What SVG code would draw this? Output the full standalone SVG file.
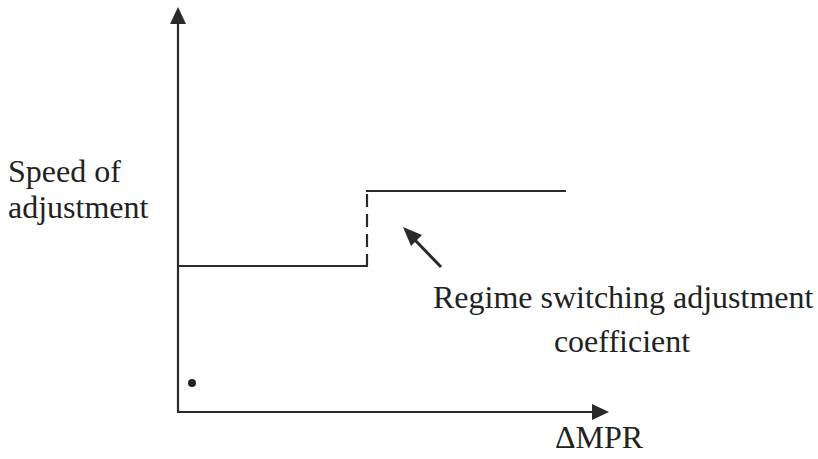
<svg xmlns="http://www.w3.org/2000/svg" width="818" height="459" viewBox="0 0 818 459">
<style>
text{font-family:"Liberation Serif","Times New Roman",serif;font-size:32px;fill:#222}
.ln{stroke:#2a2a2a;stroke-width:2.2;fill:none}
.dash{stroke:#2a2a2a;stroke-width:2.2;fill:none;stroke-dasharray:13,7}
</style>
<rect width="818" height="459" fill="#ffffff"/>
<g id="axes">
<line class="ln" x1="178" y1="412" x2="178" y2="22"/>
<polygon points="178,7 170,24 186,24" fill="#2a2a2a"/>
<line class="ln" x1="177" y1="412" x2="594" y2="412"/>
<polygon points="609,412 592,404 592,420" fill="#2a2a2a"/>
</g>
<g id="curve">
<line class="ln" x1="177" y1="266" x2="368" y2="266"/>
<line class="dash" x1="367" y1="194" x2="367" y2="265"/>
<line class="ln" x1="366" y1="191" x2="566" y2="191"/>
</g>
<g id="connectors">
<line stroke="#2a2a2a" stroke-width="3" x1="441" y1="267" x2="414" y2="239"/>
<polygon points="403,227 422,235 411,246" fill="#2a2a2a"/>
</g>
<circle cx="192" cy="383" r="4" fill="#222"/>
<g id="y-label">
<text x="8" y="182">Speed of</text>
<text x="8" y="218">adjustment</text>
</g>
<g id="curve-label">
<text x="433" y="308">Regime switching adjustment</text>
<text x="622" y="352" text-anchor="middle">coefficient</text>
</g>
<g id="x-label">
<text x="555" y="448">ΔMPR</text>
</g>
</svg>
